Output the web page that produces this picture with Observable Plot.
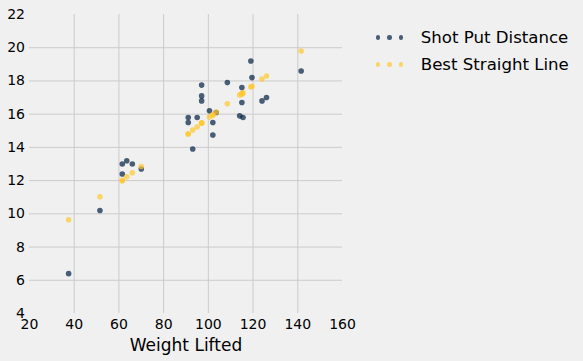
<!DOCTYPE html>
<html><head><meta charset="utf-8">
<script src="https://cdn.jsdelivr.net/npm/d3@7"></script>
<script src="https://cdn.jsdelivr.net/npm/@observablehq/plot@0.6"></script>
<style>
html,body{margin:0;padding:0;background:#f0f0f0;}
#wrap{position:relative;width:583px;height:361px;font-family:"DejaVu Sans",sans-serif;}
#legend{position:absolute;left:375.75px;top:24px;}
.row{display:flex;align-items:center;height:27px;font-size:16.6px;color:#000;white-space:nowrap;}
.dot{width:4.5px;height:4.5px;border-radius:50%;margin-right:7px;}
.lbl{margin-left:10.5px;}
</style>
</head><body>
<div id="wrap"><div id="chart"></div><div id="legend"></div></div>
<script>
const weightLifted = [37.5, 51.5, 61.5, 61.5, 63.5, 66, 70, 91, 91, 93, 95, 97, 97, 97, 100.5, 102, 102, 103.5, 108.5, 114, 115, 115, 115.5, 119, 119.5, 124, 126, 141.5];
const shotPut = [6.4, 10.2, 12.4, 13.0, 13.2, 13.0, 12.7, 15.8, 15.5, 13.9, 15.8, 17.75, 17.1, 16.8, 16.2, 15.5, 14.75, 16.1, 17.9, 15.9, 17.6, 16.7, 15.8, 19.2, 18.2, 16.8, 17.0, 18.6];
const bestLine = [9.64, 11.03, 12.0, 12.0, 12.23, 12.47, 12.85, 14.81, 14.81, 15.05, 15.23, 15.47, 15.47, 15.47, 15.83, 15.95, 15.95, 16.13, 16.62, 17.16, 17.22, 17.22, 17.28, 17.64, 17.68, 18.12, 18.3, 19.8];
const seriesNames = ["Shot Put Distance", "Best Straight Line"];
const seriesColors = ["#001e42", "#ffc82c"];
const xTicks = [20, 40, 60, 80, 100, 120, 140, 160];
const yTicks = [4, 6, 8, 10, 12, 14, 16, 18, 20, 22];
const xLabel = "Weight Lifted";

const pts = weightLifted.map((w, i) => ({w, s: shotPut[i], b: bestLine[i]}));

const chart = Plot.plot({
  width: 583, height: 361,
  marginLeft: 29, marginRight: 241, marginTop: 14, marginBottom: 48,
  style: {background: "transparent", fontFamily: "DejaVu Sans, sans-serif", fontSize: "14px", color: "#000"},
  x: {domain: [20, 160]},
  y: {domain: [4, 22]},
  marks: [
    Plot.gridX(xTicks.slice(1, -1), {stroke: "#cbcbcb", strokeOpacity: 1, strokeWidth: 1}),
    Plot.gridY(yTicks.slice(1, -1), {stroke: "#cbcbcb", strokeOpacity: 1, strokeWidth: 1}),
    Plot.axisX(xTicks, {tickSize: 0, tickPadding: 5.5, label: null, fill: "#000", fontSize: 14}),
    Plot.axisY(yTicks, {tickSize: 0, tickPadding: 4.5, label: null, fill: "#000", fontSize: 14}),
    Plot.text([xLabel], {frameAnchor: "bottom", lineAnchor: "bottom", dy: 37, fontSize: 17, fill: "#000"}),
    Plot.dot(pts, {x: "w", y: "s", r: 2.8, fill: seriesColors[0], fillOpacity: 0.7, stroke: "none"}),
    Plot.dot(pts, {x: "w", y: "b", r: 2.8, fill: seriesColors[1], fillOpacity: 0.7, stroke: "none"})
  ]
});
document.getElementById("chart").appendChild(chart);

const legend = document.getElementById("legend");
seriesNames.forEach((name, i) => {
  const row = document.createElement("div");
  row.className = "row";
  for (let k = 0; k < 3; k++) {
    const d = document.createElement("span");
    d.className = "dot";
    d.style.background = seriesColors[i];
    d.style.opacity = 0.7;
    row.appendChild(d);
  }
  const t = document.createElement("span");
  t.className = "lbl";
  t.textContent = name;
  row.appendChild(t);
  legend.appendChild(row);
});
</script>
</body></html>
